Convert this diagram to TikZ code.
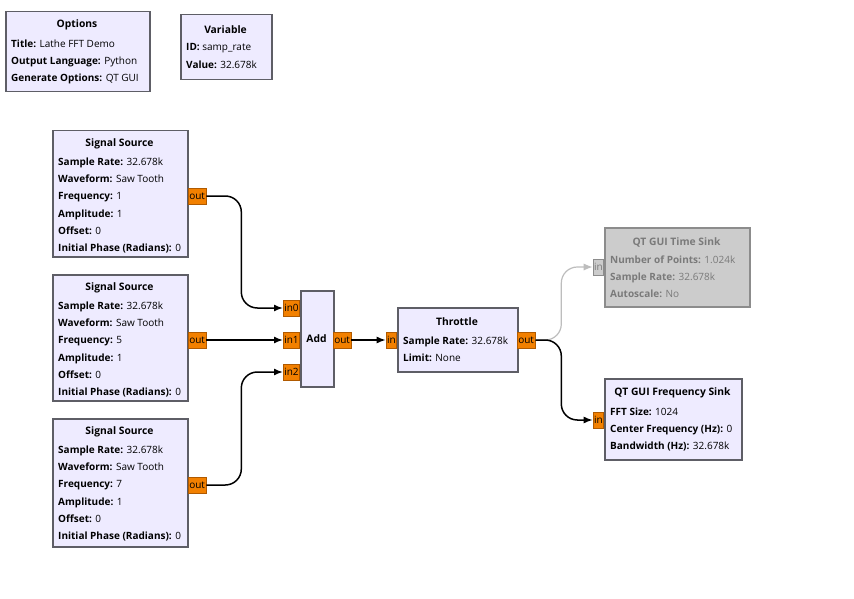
\documentclass[tikz,border=0pt]{standalone}
\usepackage{fontspec}
\setmainfont{Open Sans}
\usetikzlibrary{arrows.meta,positioning}
\definecolor{grcFill}{HTML}{EEEBFF}
\definecolor{grcEdge}{HTML}{5E5E66}
\definecolor{grcPort}{HTML}{F28000}
\definecolor{grcPortEdge}{HTML}{B05A00}
\definecolor{grcOff}{HTML}{CCCCCC}
\definecolor{grcOffEdge}{HTML}{8C8C8C}
\definecolor{grcOffText}{HTML}{7A7A7A}
\definecolor{grcOffLine}{HTML}{BDBDBD}
\tikzset{
	bloque/.style={
		draw=grcEdge,
		line width=1.5pt,
		fill=grcFill,
		anchor=north west,
		inner sep=0pt
	},
	bloqueOff/.style={
		bloque,
		draw=grcOffEdge,
		fill=grcOff
	},
	titulo/.style={
		font=\fontsize{10.3}{17}\selectfont\bfseries,
		inner sep=0pt
	},
	texto/.style={
		font=\fontsize{10}{17.25}\selectfont,
		align=left,
		anchor=north west,
		inner sep=0pt
	},
	puerto/.style={
		draw=grcPortEdge,
		fill=grcPort,
		line width=0.6pt,
		minimum height=16pt,
		inner xsep=1pt,
		inner ysep=0pt,
		font=\fontsize{10}{11}\selectfont
	},
	puertoOff/.style={
		puerto,
		draw=grcOffEdge,
		fill=grcOff,
		text=grcOffText
	},
	flecha/.style={
		-{Latex[length=9pt,width=7pt]},
		line width=1.5pt,
		rounded corners=16pt
	},
	flechaOff/.style={
		flecha,
		line width=1.2pt,
		grcOffLine
	}
}

\begin{document}
\begin{tikzpicture}[x=1pt,y=-1pt]
	\useasboundingbox[fill=white] (0,0) rectangle (854,599);
	% options and variable
	\node[bloque, minimum width=144pt, minimum height=80pt] (opt) at (5,11) {};
	\node[titulo] (optT) at (77,25) {Options};
	\node[texto] (optB) at (11,39.5) {\textbf{Title:} Lathe FFT Demo\\\textbf{Output Language:} Python\\\textbf{Generate Options:} QT GUI};
	\node[bloque, minimum width=91pt, minimum height=65pt] (var) at (180,14) {};
	\node[titulo] (varT) at (225.5,30) {Variable};
	\node[texto] (varB) at (186,43.5) {\textbf{ID:} samp\_rate\\\textbf{Value:} 32.678k};
	% signal sources
	\node[bloque, minimum width=135pt, minimum height=126pt] (src1) at (52,130) {};
	\node[titulo] (src1T) at (119.5,144) {Signal Source};
	\node[texto] (src1B) at (58,157.5) {\textbf{Sample Rate:} 32.678k\\\textbf{Waveform:} Saw Tooth\\\textbf{Frequency:} 1\\\textbf{Amplitude:} 1\\\textbf{Offset:} 0\\\textbf{Initial Phase (Radians):} 0};
	\node[bloque, minimum width=135pt, minimum height=126pt] (src2) at (52,274) {};
	\node[titulo] (src2T) at (119.5,288) {Signal Source};
	\node[texto] (src2B) at (58,301.5) {\textbf{Sample Rate:} 32.678k\\\textbf{Waveform:} Saw Tooth\\\textbf{Frequency:} 5\\\textbf{Amplitude:} 1\\\textbf{Offset:} 0\\\textbf{Initial Phase (Radians):} 0};
	\node[bloque, minimum width=135pt, minimum height=128pt] (src3) at (52,418) {};
	\node[titulo] (src3T) at (119.5,432) {Signal Source};
	\node[texto] (src3B) at (58,445.5) {\textbf{Sample Rate:} 32.678k\\\textbf{Waveform:} Saw Tooth\\\textbf{Frequency:} 7\\\textbf{Amplitude:} 1\\\textbf{Offset:} 0\\\textbf{Initial Phase (Radians):} 0};
	% add and throttle
	\node[bloque, minimum width=33pt, minimum height=96pt] (add) at (300,290) {};
	\node[titulo] (addT) at (316.5,339) {Add};
	\node[bloque, minimum width=120pt, minimum height=64pt] (thr) at (397,307) {};
	\node[titulo] (thrT) at (457,322) {Throttle};
	\node[texto] (thrB) at (403,336.5) {\textbf{Sample Rate:} 32.678k\\\textbf{Limit:} None};
	% sinks
	\node[bloqueOff, minimum width=145pt, minimum height=79pt] (tsk) at (604,227) {};
	\node[titulo, text=grcOffText] (tskT) at (676.5,242) {QT GUI Time Sink};
	\node[texto, text=grcOffText] (tskB) at (610,255.5) {\textbf{Number of Points:} 1.024k\\\textbf{Sample Rate:} 32.678k\\\textbf{Autoscale:} No};
	\node[bloque, minimum width=137pt, minimum height=81pt] (fsk) at (604,378) {};
	\node[titulo] (fskT) at (672.5,393) {QT GUI Frequency Sink};
	\node[texto] (fskB) at (610,407.5) {\textbf{FFT Size:} 1024\\\textbf{Center Frequency (Hz):} 0\\\textbf{Bandwidth (Hz):} 32.678k};
	% ports
	\node[puerto, anchor=west] (out1) at (188,196) {out};
	\node[puerto, anchor=west] (out2) at (188,340) {out};
	\node[puerto, anchor=west] (out3) at (188,485) {out};
	\node[puerto, anchor=east] (in0) at (300,308) {in0};
	\node[puerto, anchor=east] (in1) at (300,340) {in1};
	\node[puerto, anchor=east] (in2) at (300,372) {in2};
	\node[puerto, anchor=west] (addOut) at (333,340) {out};
	\node[puerto, anchor=east] (thrIn) at (397,340) {in};
	\node[puerto, anchor=west] (thrOut) at (517,340) {out};
	\node[puertoOff, anchor=east] (tskIn) at (604,267) {in};
	\node[puerto, anchor=east] (fskIn) at (604,420) {in};
	% connections
	\draw[flecha] (out1.east) -- ++(35,0) |- (in0.west);
	\draw[flecha] (out2.east) -- (in1.west);
	\draw[flecha] (out3.east) -- ++(35,0) |- (in2.west);
	\draw[flecha] (addOut.east) -- (thrIn.west);
	\draw[flechaOff] (thrOut.east) -- ++(26,0) |- (tskIn.west);
	\draw[flecha] (thrOut.east) -- ++(26,0) |- (fskIn.west);
\end{tikzpicture}
\end{document}
